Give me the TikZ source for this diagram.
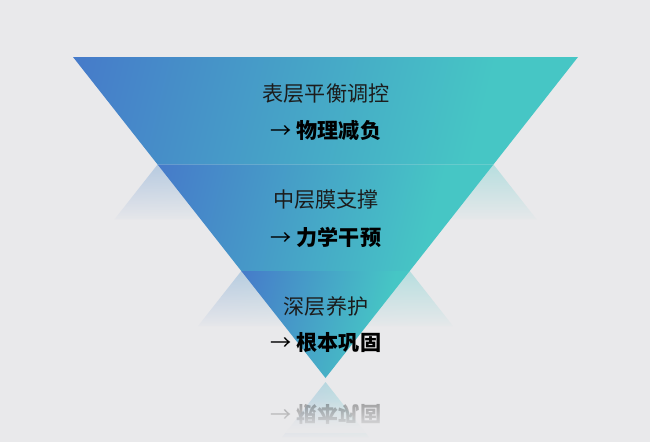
\documentclass[tikz,border=0pt]{standalone}
\usepackage{fontspec}
\setmainfont{Noto Sans CJK SC}
\usetikzlibrary{fadings}

\definecolor{bgcolor}{HTML}{E9E9EB}
\definecolor{deepblue}{HTML}{4673CA}
\definecolor{aqua}{HTML}{46C6C5}
\definecolor{inkcolor}{HTML}{1C1C1C}

\pgfdeclareverticalshading{bandshade}{100bp}{color(0bp)=(aqua); color(32bp)=(aqua); color(85bp)=(deepblue); color(100bp)=(deepblue)}
\pgfdeclareverticalshading{mirrormask}{100bp}{color(0bp)=(black); color(22bp)=(black); color(100bp)=(black!55)}
\pgfdeclarefading{mirrorfade}{\pgfuseshading{mirrormask}}
\tikzfading[name=coverfade, top color=transparent!100, bottom color=transparent!0]

\tikzset{
  band/.style={shading=bandshade, shading angle=76},
  mirror/.style={shading=bandshade, shading angle=104, path fading=mirrorfade, fit fading=true},
  layername/.style={font=\fontsize{15}{18}\selectfont, text=inkcolor},
  layeract/.style={font=\fontsize{15}{18}\selectfont, text=black}
}

\begin{document}
\begin{tikzpicture}[x=0.025cm, y=-0.025cm]
  \fill[bgcolor] (0,0) rectangle (650,442);
  \useasboundingbox (0,0) rectangle (650,442);
  % corners of the inverted triangle
  \coordinate (tl) at (73,57);
  \coordinate (tr) at (578,57);
  \coordinate (ml) at (157.6,164.5);
  \coordinate (mr) at (493.4,164.5);
  \coordinate (ll) at (241.3,271);
  \coordinate (lr) at (409.7,271);
  \coordinate (apex) at (325.5,378);
  \coordinate (apexm) at (325.5,382);
  % reflections
  \shade[mirror] (ml) -- (mr) -- (536.7,219.5) -- (114.3,219.5) -- cycle;
  \shade[mirror] (ll) -- (lr) -- (453,326) -- (198,326) -- cycle;
  \shade[mirror] (apexm) -- (368.8,437) -- (282.2,437) -- cycle;
  \begin{scope}[shift={(326,414)}, yscale=-1]
    \node[layeract, transform shape, opacity=0.32] (act3m) at (0,0) {→ \textbf{根本巩固}};
  \end{scope}
  \fill[bgcolor, path fading=coverfade] (255,401) rectangle (397,433);
  % bands
  \shade[band] (tl) -- (tr) -- (mr) -- (ml) -- cycle;
  \shade[band] (ml) -- (mr) -- (lr) -- (ll) -- cycle;
  \shade[band] (ll) -- (lr) -- (apex) -- cycle;
  % labels
  \node[layername] (name1) at (326,94) {表层平衡调控};
  \node[layeract] (act1) at (326,131) {→ \textbf{物理减负}};
  \node[layername] (name2) at (326,200) {中层膜支撑};
  \node[layeract] (act2) at (326,237) {→ \textbf{力学干预}};
  \node[layername] (name3) at (326,306) {深层养护};
  \node[layeract] (act3) at (326,343) {→ \textbf{根本巩固}};
\end{tikzpicture}
\end{document}
